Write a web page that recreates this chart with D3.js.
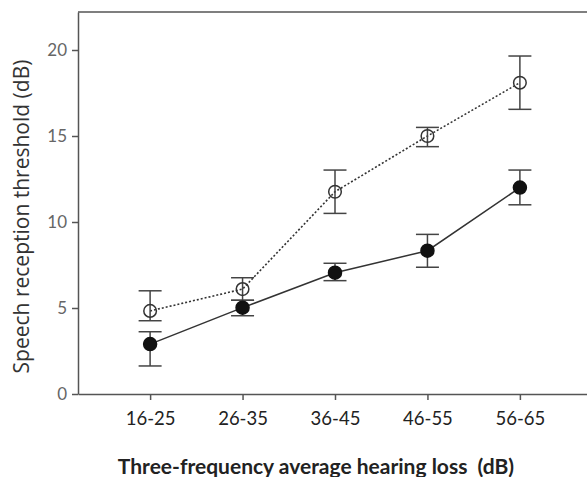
<!DOCTYPE html>
<html>
<head>
<meta charset="utf-8">
<script src="https://cdn.jsdelivr.net/npm/d3@7"></script>
<style>
  body { margin: 0; background: #fff; }
  svg { display: block; }
  .tick text { font-family: Lato, "Open Sans", sans-serif; fill: #444; }
  .axis path, .axis line { stroke: #555; stroke-width: 1.5; }
</style>
</head>
<body>
<div id="chart"></div>
<script>
const groups = ["16-25", "26-35", "36-45", "46-55", "56-65"];
const yTicks = [0, 5, 10, 15, 20];

// open circles, dotted line
const openMean = [4.83, 6.1, 11.76, 15.0, 18.1];
const openLow  = [4.26, 5.45, 10.5, 14.38, 16.55];
const openHigh = [6.0, 6.76, 13.02, 15.5, 19.65];

// filled circles, solid line
const fillMean = [2.9, 5.02, 7.05, 8.33, 12.0];
const fillLow  = [1.63, 4.55, 6.59, 7.37, 11.0];
const fillHigh = [3.62, 5.45, 7.6, 9.28, 13.02];

(function() {
  const W = 587, H = 477;
  const m = { left: 78, top: 12, bottom: 394, right: 592 };

  const svg = d3.select('#chart').append('svg')
    .attr('width', W)
    .attr('height', H);

  const x = d3.scalePoint().domain(groups).range([m.left, m.right]).padding(0.78);
  const y = d3.scaleLinear().domain([0, 20]).range([m.bottom, 50]);
  const yAxisScale = y.copy().domain([0, y.invert(m.top)]).range([m.bottom, m.top]);

  // frame top line
  svg.append('line')
    .attr('x1', m.left).attr('x2', m.right)
    .attr('y1', m.top).attr('y2', m.top)
    .attr('stroke', '#555').attr('stroke-width', 1.5);

  const yAxis = svg.append('g')
    .attr('class', 'axis')
    .attr('transform', `translate(${m.left},0)`)
    .call(d3.axisLeft(yAxisScale).tickValues(yTicks).tickSize(6).tickSizeOuter(0).tickPadding(5));
  yAxis.selectAll('.tick text').style('font-size', '17px').style('fill', '#666');

  const xAxis = svg.append('g')
    .attr('class', 'axis')
    .attr('transform', `translate(0,${m.bottom})`)
    .call(d3.axisBottom(x).tickSize(6).tickSizeOuter(0).tickPadding(12));
  xAxis.selectAll('.tick text').style('font-size', '18.5px').style('fill', '#222');

  function series(mean, low, high, filled, dashed) {
    const rows = groups.map((g, i) => ({ g, m: mean[i], lo: low[i], hi: high[i] }));
    const line = d3.line().x(d => x(d.g)).y(d => y(d.m));

    svg.append('path')
      .datum(rows)
      .attr('d', line)
      .attr('fill', 'none')
      .attr('stroke', '#333')
      .attr('stroke-width', dashed ? 1.6 : 1.5)
      .attr('stroke-dasharray', dashed ? '2,2' : null);

    const eb = svg.append('g').selectAll('g')
      .data(rows)
      .join('g')
        .attr('stroke', '#444')
        .attr('stroke-width', 1.5);
    eb.append('line')
      .attr('x1', d => x(d.g)).attr('x2', d => x(d.g))
      .attr('y1', d => y(d.lo)).attr('y2', d => y(d.hi));
    eb.append('line')
      .attr('x1', d => x(d.g) - 11.5).attr('x2', d => x(d.g) + 11.5)
      .attr('y1', d => y(d.lo)).attr('y2', d => y(d.lo));
    eb.append('line')
      .attr('x1', d => x(d.g) - 11.5).attr('x2', d => x(d.g) + 11.5)
      .attr('y1', d => y(d.hi)).attr('y2', d => y(d.hi));

    svg.append('g').selectAll('circle')
      .data(rows)
      .join('circle')
        .attr('cx', d => x(d.g))
        .attr('cy', d => y(d.m))
        .attr('r', filled ? 6.5 : 6.3)
        .attr('fill', filled ? '#111' : 'none')
        .attr('stroke', filled ? '#111' : '#333')
        .attr('stroke-width', 1.5);
  }

  series(openMean, openLow, openHigh, false, true);
  series(fillMean, fillLow, fillHigh, true, false);

  svg.append('text')
    .attr('transform', `translate(29, ${(60 + 373) / 2}) rotate(-90)`)
    .attr('text-anchor', 'middle')
    .style('font-family', '"Open Sans", sans-serif')
    .style('font-size', '21px')
    .style('fill', '#333')
    .text('Speech reception threshold (dB)');

  svg.append('text')
    .attr('x', 316)
    .attr('y', 474)
    .attr('text-anchor', 'middle')
    .style('font-family', 'Lato, sans-serif')
    .style('font-weight', 'bold')
    .style('font-size', '21px')
    .style('fill', '#222')
    .style('white-space', 'pre')
    .text('Three-frequency average hearing loss  (dB)');
})();
</script>
</body>
</html>
